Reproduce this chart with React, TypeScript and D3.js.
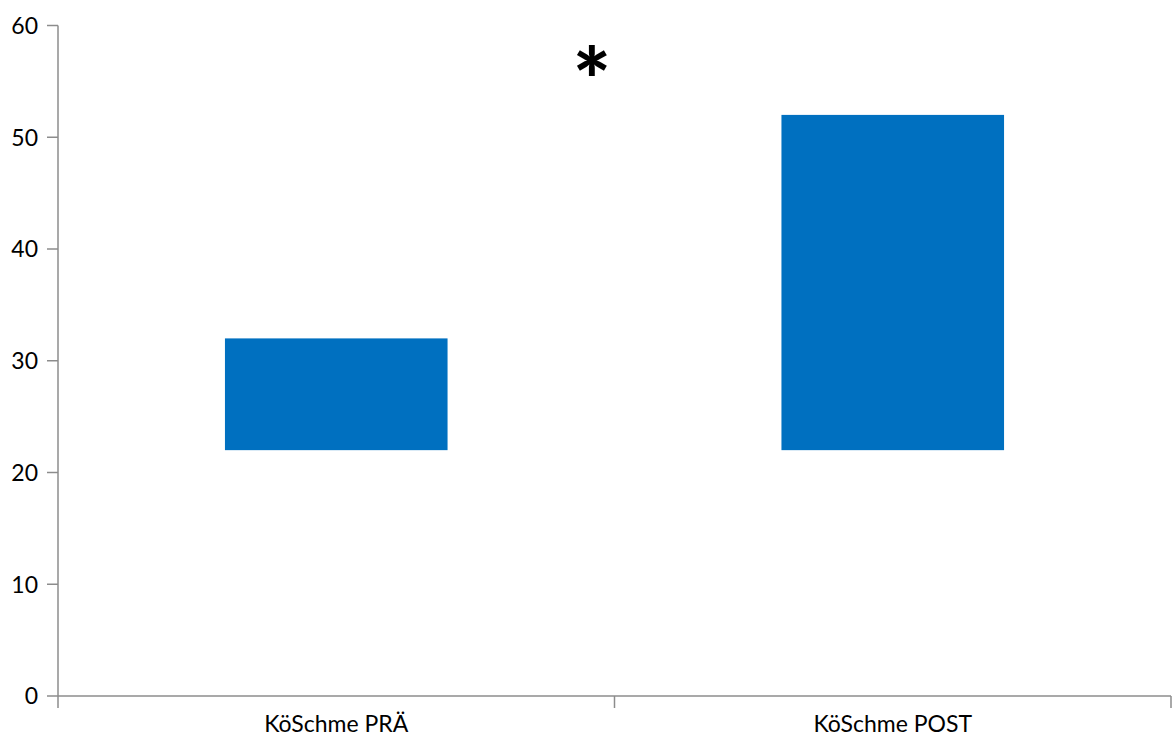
import React from "react";
import * as d3 from "d3";

// Floating bars: each bar spans from a low value to a high value
const categories = ["KöSchme PRÄ", "KöSchme POST"];
const lowValues = [22, 22];
const highValues = [32, 52];
const yTicks = [0, 10, 20, 30, 40, 50, 60];

const W = 1172;
const H = 738;
const margin = { left: 58, right: 1, top: 25.5, bottom: 42 };
const FONT = "Lato, 'Open Sans', sans-serif";
const AXIS = "#8c8c8c";

export default function App() {
  const x = d3
    .scaleBand<string>()
    .domain(categories)
    .range([margin.left, W - margin.right])
    .paddingInner(0.6)
    .paddingOuter(0.3);
  const y = d3
    .scaleLinear()
    .domain([0, 60])
    .range([H - margin.bottom, margin.top]);

  const x0 = margin.left;
  const x1 = W - margin.right;
  const yBase = y(0);
  const step = x.step();
  // category boundaries for tick marks
  const boundaries = [x0, x0 + step, x0 + 2 * step];

  return (
    <svg
      width={W}
      height={H}
      style={{ position: "absolute", left: 0, top: 0, background: "#fff" }}
    >
      {categories.map((c, i) => (
        <rect
          key={c}
          x={x(c)}
          y={y(highValues[i])}
          width={x.bandwidth()}
          height={y(lowValues[i]) - y(highValues[i])}
          fill="#0070C0"
        />
      ))}

      {/* y axis */}
      <line x1={x0} x2={x0} y1={y(60)} y2={yBase + 12} stroke={AXIS} strokeWidth={1.5} />
      {yTicks.map((t) => (
        <g key={t}>
          <line x1={x0 - 11} x2={x0} y1={y(t)} y2={y(t)} stroke={AXIS} strokeWidth={1.5} />
          <text
            x={x0 - 20}
            y={y(t)}
            dy="0.36em"
            textAnchor="end"
            fontFamily={FONT}
            fontSize={23}
            fill="#000"
          >
            {t}
          </text>
        </g>
      ))}

      {/* x axis */}
      <line x1={x0} x2={x1} y1={yBase} y2={yBase} stroke={AXIS} strokeWidth={1.5} />
      {boundaries.slice(1).map((b, i) => (
        <line key={i} x1={b} x2={b} y1={yBase} y2={yBase + 12} stroke={AXIS} strokeWidth={1.5} />
      ))}
      {categories.map((c) => (
        <text
          key={c}
          x={(x(c) as number) + x.bandwidth() / 2}
          y={732}
          textAnchor="middle"
          fontFamily={FONT}
          fontSize={23}
          fill="#000"
        >
          {c}
        </text>
      ))}

      {/* significance marker */}
      <text
        x={592}
        y={113}
        textAnchor="middle"
        fontFamily={FONT}
        fontWeight={900}
        fontSize={90}
        fill="#000"
      >
        *
      </text>
    </svg>
  );
}
